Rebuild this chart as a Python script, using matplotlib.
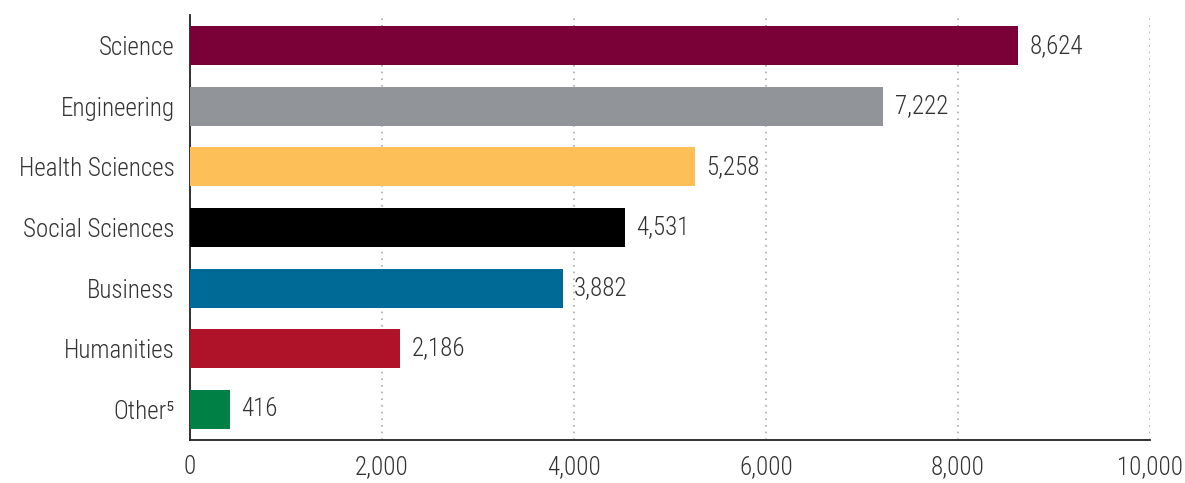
import matplotlib
matplotlib.use("Agg")
import matplotlib.pyplot as plt
from matplotlib import font_manager

categories = ["Science", "Engineering", "Health Sciences", "Social Sciences", "Business", "Humanities", "Other\u2075"]
values = [8624, 7222, 5258, 4531, 3882, 2186, 416]
colors = ["#7A0038", "#919498", "#FDBF57", "#000000", "#006A96", "#AE132A", "#008044"]
xticks = [0, 2000, 4000, 6000, 8000, 10000]

names = {f.name for f in font_manager.fontManager.ttflist}
fam = [n for n in ["Roboto Condensed", "Liberation Sans Narrow", "Roboto", "DejaVu Sans"] if n in names]
fam.append("DejaVu Sans")
plt.rcParams["font.family"] = fam
plt.rcParams["font.weight"] = 300

txt = "#333333"
fs = 18
fig = plt.figure(figsize=(11.85, 4.83), dpi=100)
ax = fig.add_axes([0.1603, 0.089, 0.8102, 0.880])

y = list(range(len(categories)))
ax.barh(y, values, height=0.645, color=colors, zorder=3)
for yi, v in zip(y, values):
    ax.text(v + 120, yi, f"{v:,}", va="center", ha="left", fontsize=fs, color=txt)

ax.set_xlim(0, 10000)
ax.set_ylim(6.51, -0.51)
ax.set_yticks(y)
ax.set_yticklabels(categories, fontsize=fs, color=txt)
ax.set_xticks(xticks)
ax.set_xticklabels([f"{t:,}" for t in xticks], fontsize=fs, color=txt)
ax.tick_params(axis="both", length=0)
ax.tick_params(axis="y", pad=11)
ax.tick_params(axis="x", pad=11)
ax.grid(axis="x", linestyle=(0, (1, 3)), color="#aaaaaa", linewidth=1.2, zorder=0)
for s in ["top", "right"]:
    ax.spines[s].set_visible(False)
for s in ["left", "bottom"]:
    ax.spines[s].set_color("#222222")
    ax.spines[s].set_linewidth(1.3)

fig.savefig("out.png", dpi=100)
